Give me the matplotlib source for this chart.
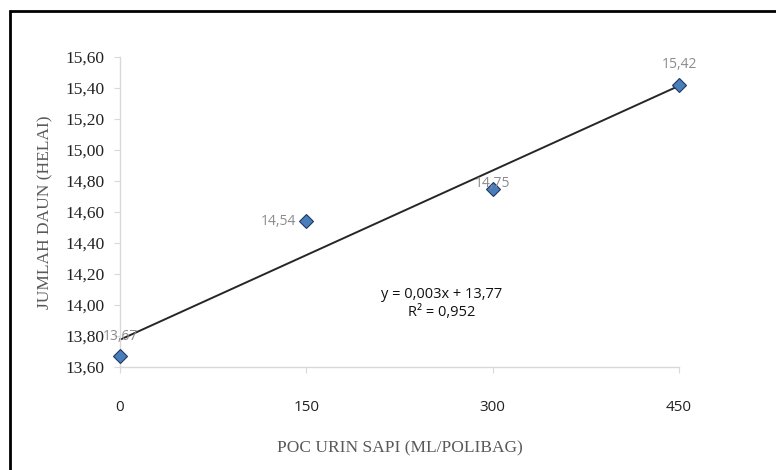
import matplotlib
matplotlib.use("Agg")
import matplotlib.pyplot as plt
import matplotlib.patches as patches
import numpy as np

# data
dosis = [0, 150, 300, 450]
jumlah_daun = [13.67, 14.54, 14.75, 15.42]
label_pos = ["top", "left", "center", "top"]
y_ticks = [13.6, 13.8, 14.0, 14.2, 14.4, 14.6, 14.8, 15.0, 15.2, 15.4, 15.6]
x_ticks = [0, 150, 300, 450]

fig = plt.figure(figsize=(7.76, 4.70), dpi=100)
ax = fig.add_axes([120 / 776, 1 - 367 / 470, 559 / 776, 310 / 470])

# trendline
slope, intercept = np.polyfit(dosis, jumlah_daun, 1)
xs = np.array([0, 450])
ax.plot(xs, slope * xs + intercept, "-", color="#262626", lw=1.4, zorder=2)

ax.plot(dosis, jumlah_daun, "D", ms=7, mfc="#4A7EBB", mec="#1F3864", mew=0.8,
        zorder=3, clip_on=False)

lab_kw = dict(textcoords="offset points", fontsize=10, color="#8C8C8C",
              family="Open Sans")
for x, y, pos in zip(dosis, jumlah_daun, label_pos):
    txt = f"{y:.2f}".replace(".", ",")
    if pos == "top":
        ax.annotate(txt, (x, y), xytext=(0, 9), ha="center", va="bottom", **lab_kw)
    elif pos == "left":
        ax.annotate(txt, (x, y), xytext=(-7, 0), ha="right", va="center", **lab_kw)
    else:
        ax.annotate(txt, (x, y), xytext=(0, 4), ha="center", va="center", **lab_kw)

ax.text(0.575, 0.205, "y = 0,003x + 13,77\nR² = 0,952", transform=ax.transAxes,
        ha="center", va="center", fontsize=10.5, color="#111111",
        family="Open Sans", linespacing=1.35)

ax.set_xlim(0, 450)
ax.set_ylim(13.6, 15.6)
ax.set_xticks(x_ticks)
ax.set_xticklabels([str(v) for v in x_ticks], family="Open Sans", fontsize=11,
                   color="#222222")
ax.set_yticks(y_ticks)
ax.set_yticklabels([f"{v:.2f}".replace(".", ",") for v in y_ticks],
                   family="Liberation Serif", fontsize=12.5, color="#222222")

for s in ["top", "right"]:
    ax.spines[s].set_visible(False)
for s in ["left", "bottom"]:
    ax.spines[s].set_color("#D9D9D9")
    ax.spines[s].set_linewidth(1.0)
ax.tick_params(axis="y", direction="out", length=4, color="#D9D9D9", pad=7)
ax.tick_params(axis="x", direction="out", length=4, color="#D9D9D9", pad=20)

ax.set_ylabel("JUMLAH DAUN (HELAI)", family="Liberation Serif", fontsize=12.5,
              color="#595959", labelpad=9)
ax.set_xlabel("POC URIN SAPI (ML/POLIBAG)", family="Liberation Serif", fontsize=12.5,
              color="#595959", labelpad=18)

# outer frame
frame = patches.Rectangle((10 / 776, -0.1), 1.2, 1 - 11 / 470 + 0.1,
                          transform=fig.transFigure, fill=False, ec="black",
                          lw=2.0, clip_on=False)
fig.patches.append(frame)

fig.savefig("out.png", dpi=100)
